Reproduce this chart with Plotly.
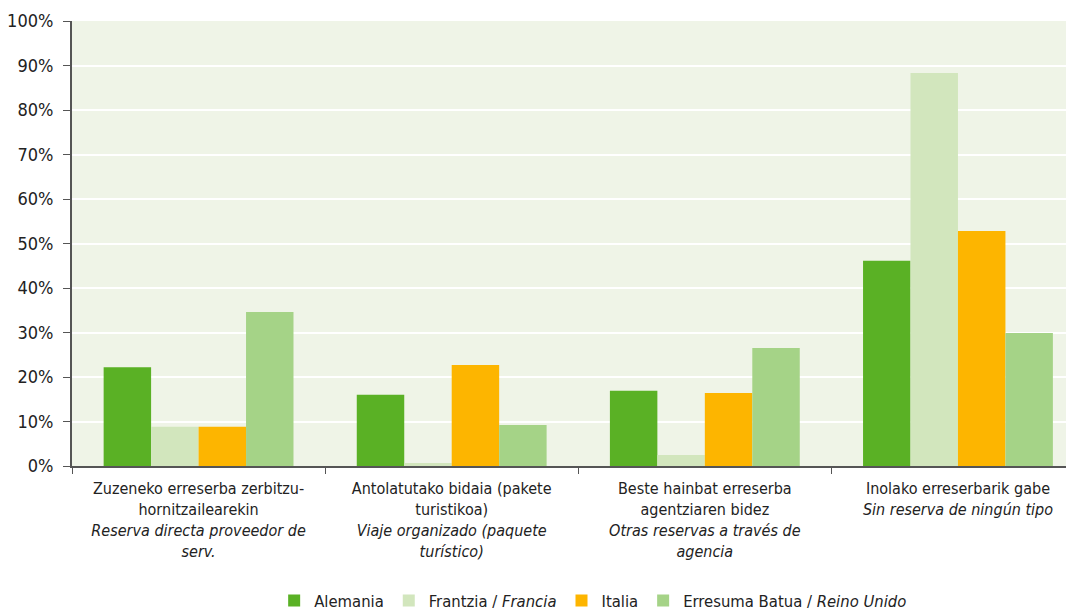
import plotly.graph_objects as go

categories = [
    "Zuzeneko erreserba zerbitzu-<br>hornitzailearekin<br><i>Reserva directa proveedor de</i><br><i>serv.</i>",
    "Antolatutako bidaia (pakete<br>turistikoa)<br><i>Viaje organizado (paquete</i><br><i>turístico)</i>",
    "Beste hainbat erreserba<br>agentziaren bidez<br><i>Otras reservas a través de</i><br><i>agencia</i>",
    "Inolako erreserbarik gabe<br><i>Sin reserva de ningún tipo</i><br> <br> ",
]
alemania = [22.2, 16.0, 16.9, 46.1]
francia = [8.8, 0.7, 2.5, 88.3]
italia = [8.8, 22.7, 16.4, 52.8]
reino_unido = [34.6, 9.2, 26.5, 29.9]

series = [
    ("Alemania", alemania, "#5ab125"),
    ("Frantzia / <i>Francia</i>", francia, "#d2e6bd"),
    ("Italia", italia, "#fdb500"),
    ("Erresuma Batua / <i>Reino Unido</i>", reino_unido, "#a5d387"),
]

font_family = "DejaVu Sans Condensed, Liberation Sans Narrow, sans-serif"

fig = go.Figure()
for name, vals, color in series:
    fig.add_trace(go.Bar(x=categories, y=vals, name=name, marker=dict(color=color, line=dict(width=0))))

fig.update_layout(
    width=1074, height=614,
    barmode="group", bargap=0.25, bargroupgap=0,
    plot_bgcolor="#eff4e7", paper_bgcolor="white",
    font=dict(family=font_family, size=18, color="#222222"),
    margin=dict(l=64, r=0, t=13, b=156),
    legend=dict(orientation="h", x=0.516, xanchor="center", y=-0.303, yanchor="middle",
                font=dict(size=16.5), itemwidth=30, traceorder="normal"),
    showlegend=True,
)
fig.update_yaxes(range=[0, 100], dtick=10, ticksuffix="%", showgrid=True, gridcolor="white", gridwidth=2,
                 showline=True, linecolor="#555555", linewidth=2, ticks="outside", ticklen=7,
                 tickcolor="#555555", zeroline=False, ticklabelstandoff=6)
fig.update_xaxes(range=[-0.5, 3.49], showline=True, linecolor="#555555", linewidth=2, ticks="outside",
                 tickson="boundaries", ticklen=6, tickcolor="#555555", tickangle=0,
                 tickfont=dict(size=16), ticklabelstandoff=7)

fig.write_html("out.html")
